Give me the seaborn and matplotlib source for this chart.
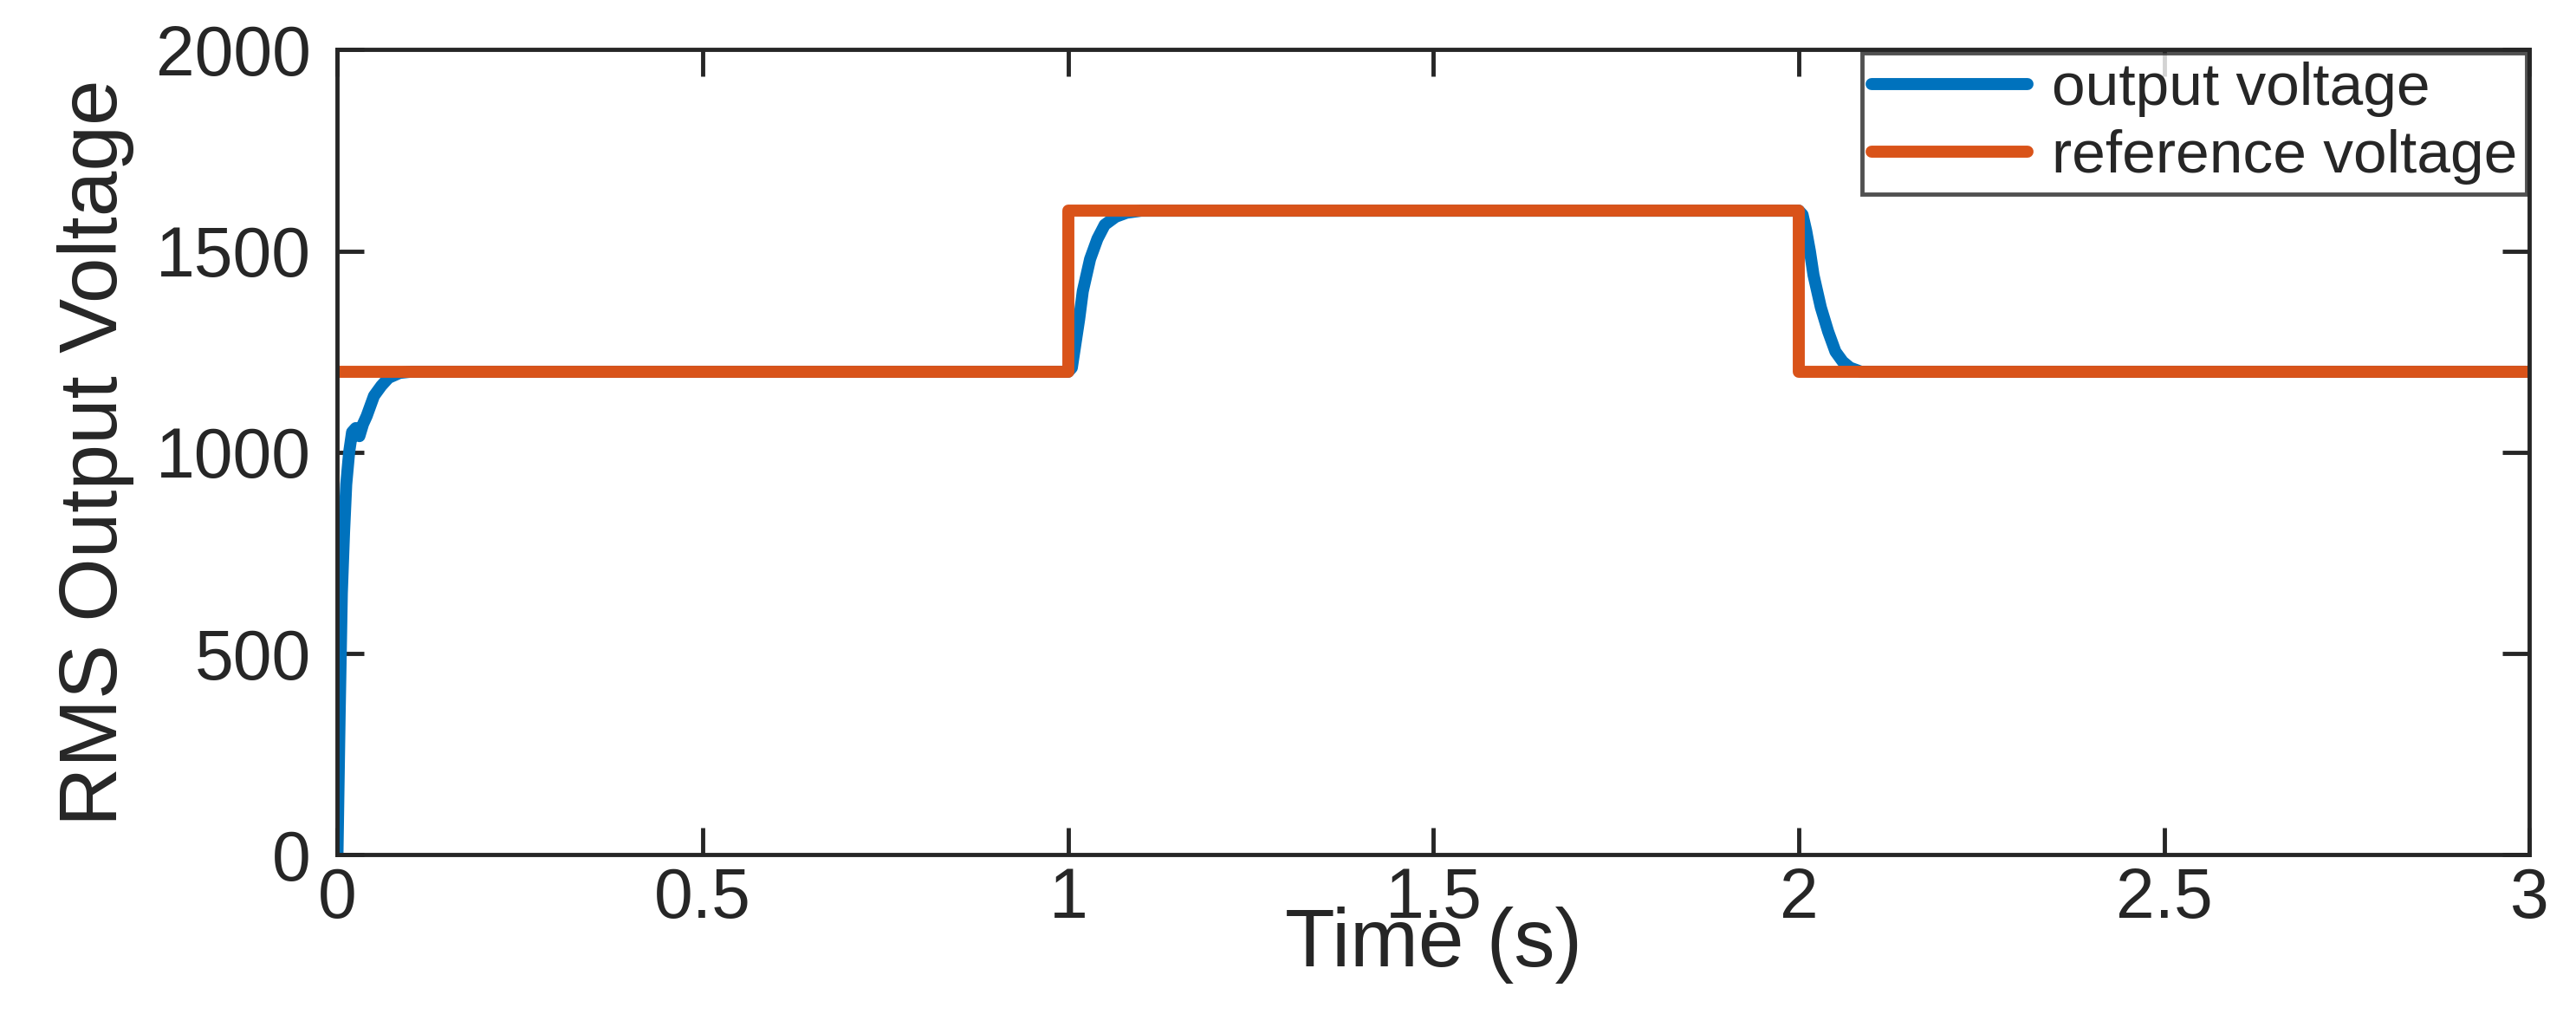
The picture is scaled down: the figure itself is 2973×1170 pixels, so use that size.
import matplotlib
matplotlib.use("Agg")
import matplotlib.pyplot as plt
import seaborn as sns
import pandas as pd

t_out = [0, 0.003, 0.006, 0.009, 0.012, 0.016, 0.02, 0.025, 0.03, 0.035, 0.04, 0.05, 0.06, 0.07, 0.085, 0.1,
         1.0, 1.005, 1.01, 1.015, 1.02, 1.03, 1.04, 1.05, 1.065, 1.08, 1.1, 1.12,
         2.0, 2.005, 2.01, 2.015, 2.02, 2.03, 2.04, 2.05, 2.06, 2.07, 2.085, 2.1, 3.0]
v_out = [0, 350, 650, 800, 920, 1000, 1050, 1060, 1040, 1070, 1090, 1140, 1165, 1185, 1197, 1200,
         1200, 1210, 1270, 1330, 1400, 1480, 1530, 1565, 1585, 1595, 1600, 1600,
         1600, 1590, 1550, 1500, 1440, 1360, 1300, 1250, 1225, 1210, 1200, 1200, 1200]
t_ref = [0, 1.0, 1.0, 2.0, 2.0, 3.0]
v_ref = [1200, 1200, 1600, 1600, 1200, 1200]

sns.set_theme(style="white")
plt.rcParams['font.family'] = ['Liberation Sans', 'DejaVu Sans']

fig = plt.figure(figsize=(29.73, 11.7), dpi=100)
ax = fig.add_axes([0.131, 0.157, 0.851, 0.794])
d1 = pd.DataFrame({"t": t_out, "v": v_out})
d2 = pd.DataFrame({"t": t_ref, "v": v_ref})
sns.lineplot(data=d1, x="t", y="v", ax=ax, color="#0072BD", lw=10, label="output voltage", estimator=None, sort=False)
sns.lineplot(data=d2, x="t", y="v", ax=ax, color="#D95319", lw=10, label="reference voltage", estimator=None, sort=False)
ax.set_xlim(0, 3)
ax.set_ylim(0, 2000)
ax.set_xticks([0, 0.5, 1, 1.5, 2, 2.5, 3])
ax.set_xticklabels(["0", "0.5", "1", "1.5", "2", "2.5", "3"])
ax.set_yticks([0, 500, 1000, 1500, 2000])
ax.tick_params(direction="in", length=22, width=3.5, labelsize=58, colors="#262626", pad=10,
               top=True, right=True, bottom=True, left=True)
ax.tick_params(axis="y", pad=22)
for s in ax.spines.values():
    s.set_linewidth(3.5)
    s.set_color("#262626")
ax.set_xlabel("Time (s)", fontsize=68, color="#262626", labelpad=-22)
ax.set_ylabel("RMS Output Voltage", fontsize=68, color="#262626", labelpad=18)
leg = ax.legend(loc="upper right", fontsize=50, frameon=True, fancybox=False, borderaxespad=0.05,
                handlelength=2.6, borderpad=0.15, labelspacing=0.2, handletextpad=0.4)
leg.get_frame().set_edgecolor("#262626")
leg.get_frame().set_linewidth(3.5)
fig.savefig("out.png", dpi=100, facecolor="white")
